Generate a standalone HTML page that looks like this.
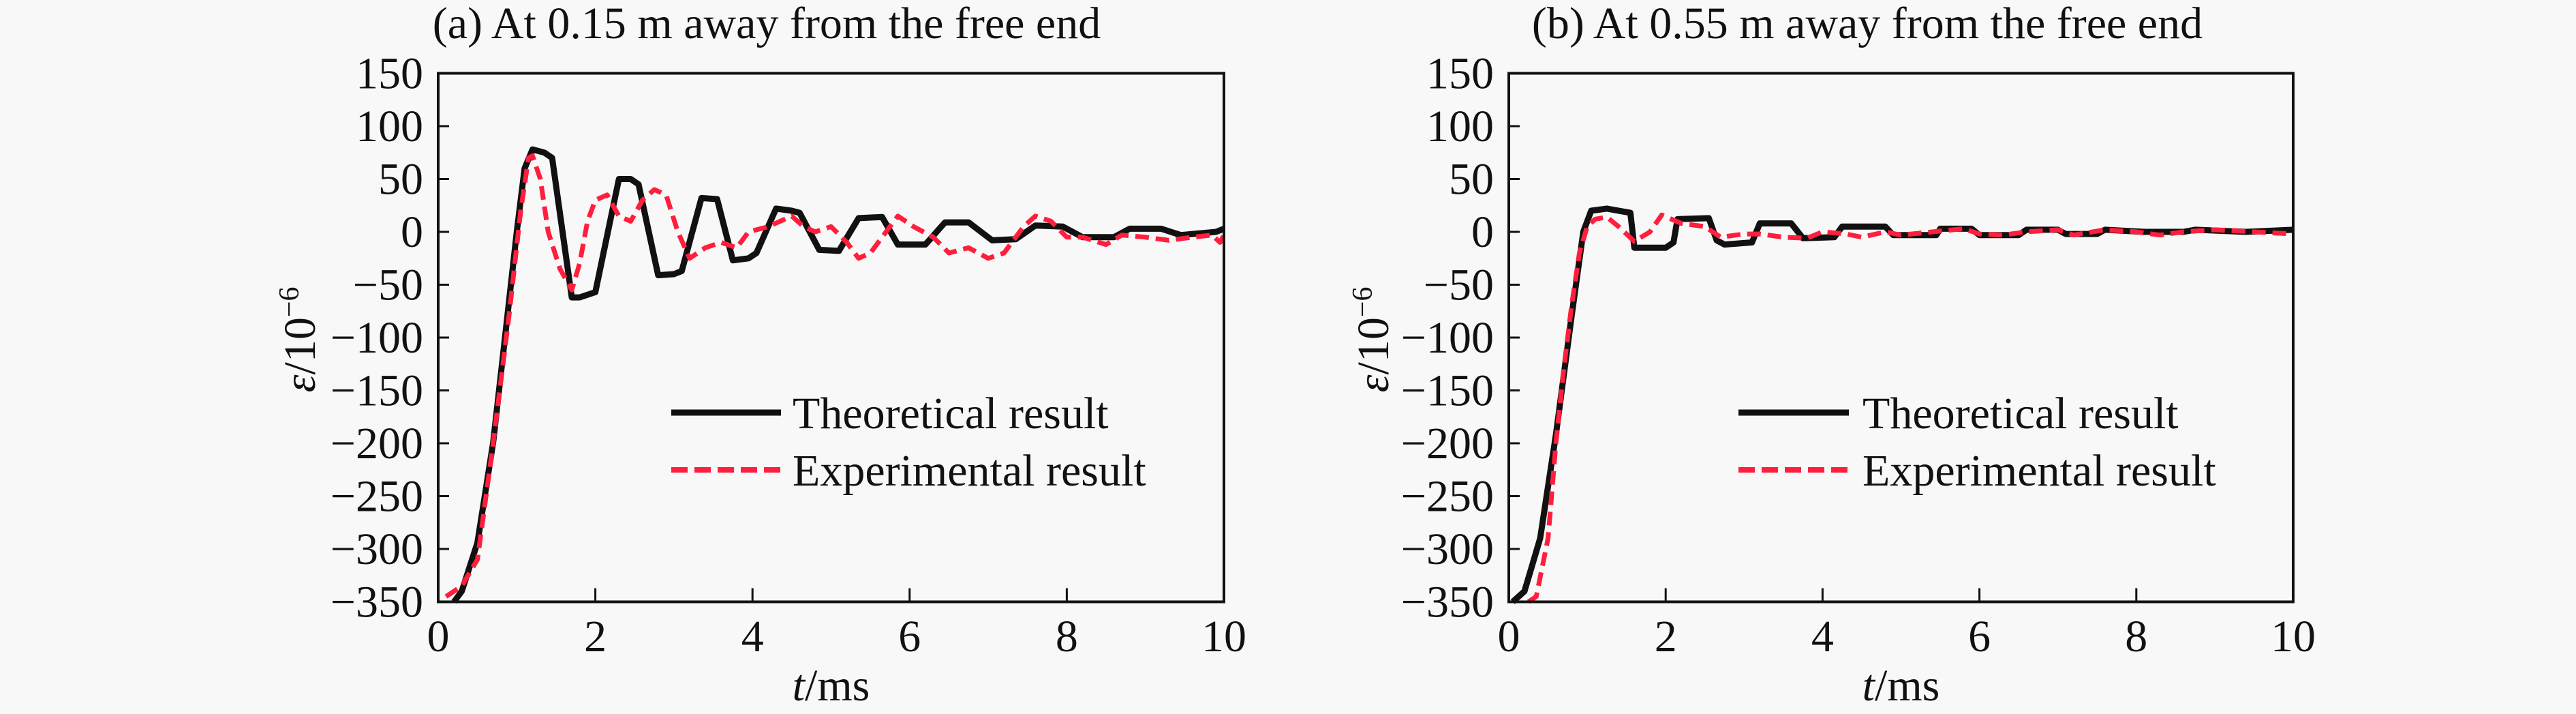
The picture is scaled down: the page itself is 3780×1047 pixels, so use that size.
<!DOCTYPE html>
<html><head><meta charset="utf-8"><style>
html,body{margin:0;padding:0;background:#f8f8f8;}
svg{display:block;font-family:"Liberation Serif",serif;}
</style></head><body>
<svg id="chart" width="3780" height="1047" viewBox="0 0 3780 1047" xmlns="http://www.w3.org/2000/svg">
<rect x="0" y="0" width="3780" height="1047" fill="#f8f8f8"/>
</svg>
<script>
const xTicks = [0, 2, 4, 6, 8, 10];
const yTicks = [150, 100, 50, 0, -50, -100, -150, -200, -250, -300, -350];
const titles = ["(a) At 0.15 m away from the free end", "(b) At 0.55 m away from the free end"];
const legendLabels = ["Theoretical result", "Experimental result"];

const theoATime = [0.2,0.3,0.5,0.7,0.85,1.0,1.1,1.2,1.35,1.45,1.7,1.8,2.0,2.3,2.45,2.55,2.8,3.0,3.1,3.35,3.55,3.75,3.95,4.05,4.3,4.5,4.6,4.85,5.1,5.35,5.65,5.85,6.2,6.45,6.75,7.05,7.35,7.6,7.95,8.2,8.6,8.8,9.2,9.45,9.9,10];
const theoAVal = [-350,-340,-294,-199,-100,0,60,78,75,70,-62,-62,-57,50,50,45,-41,-40,-37,32,31,-27,-25,-20,22,20,18,-17,-18,13,14,-12,-12,9,9,-8,-7,6,5,-5,-5,3,3,-3,0,3];
const expATime = [0.1,0.3,0.5,0.7,0.9,1.05,1.15,1.2,1.3,1.4,1.55,1.7,1.8,1.9,2.0,2.15,2.3,2.45,2.6,2.75,2.9,3.05,3.2,3.4,3.6,3.8,3.95,4.2,4.5,4.65,4.8,5.0,5.2,5.35,5.5,5.7,5.85,6.05,6.3,6.5,6.75,7.0,7.2,7.45,7.6,7.8,8.0,8.2,8.5,8.7,9.0,9.3,9.6,9.85,9.95,10];
const expAVal = [-345,-335,-310,-200,-80,20,70,72,50,0,-35,-55,-30,10,30,35,15,10,30,40,35,0,-25,-15,-10,-15,0,5,15,5,0,5,-10,-25,-20,0,15,5,-5,-20,-15,-25,-20,5,15,10,-5,-5,-12,-3,-5,-8,-5,-3,-10,-3];
const theoBTime = [0.05,0.2,0.4,0.6,0.8,0.95,1.05,1.25,1.55,1.6,2.0,2.1,2.15,2.55,2.65,2.75,3.1,3.2,3.6,3.75,4.15,4.25,4.8,4.9,5.45,5.5,5.9,6.0,6.5,6.6,7.0,7.1,7.5,7.6,8.1,8.6,8.75,9.4,10];
const theoBVal = [-350,-340,-290,-192,-80,0,20,22,18,-15,-15,-10,12,13,-8,-12,-10,8,8,-6,-5,5,5,-3,-3,3,3,-3,-3,2,2,-2,-2,2,0,0,2,0,2];
const expBTime = [0.25,0.35,0.5,0.6,0.7,0.8,0.9,1.0,1.1,1.25,1.4,1.6,1.8,1.95,2.2,2.5,2.7,3.0,3.2,3.5,3.8,4.0,4.3,4.5,4.8,5.0,5.4,5.8,6.0,6.3,6.6,7.0,7.2,7.6,8.0,8.3,8.6,9.0,9.5,10];
const expBVal = [-350,-345,-290,-200,-130,-70,-20,5,12,14,5,-9,0,16,8,5,-5,-2,-2,-5,-6,0,-2,-5,0,-3,0,3,-2,-3,0,2,-3,2,0,-3,0,2,0,-2];

const NS = "http://www.w3.org/2000/svg";
const svg = document.getElementById("chart");
function mk(tag, attrs, parent){ const e=document.createElementNS(NS,tag); for(const k in attrs) e.setAttribute(k,attrs[k]); (parent||svg).appendChild(e); return e; }

const panels = [
  {x0:643, x1:1796, title:titles[0], tx:1125, lx0:985, lx1:1146, ltx:1163, series:[[theoATime,theoAVal],[expATime,expAVal]], yl:440, key:"a"},
  {x0:2214, x1:3365, title:titles[1], tx:2740, lx0:2551, lx1:2713, ltx:2733, series:[[theoBTime,theoBVal],[expBTime,expBVal]], yl:2015, key:"b"}
];
const yTop=107.5, yBot=882.5;
panels.forEach(p=>{
  const g = mk("g",{});
  
  
  const sx = t => p.x0 + (t-0)/(10-0)*(p.x1-p.x0);
  const sy = v => yBot - (v+350)/500*(yBot-yTop);
  const t = mk("text",{x:p.tx,y:56,"font-size":66,"text-anchor":"middle",fill:"#111"},g);
  t.textContent=p.title;
  
  
  p.series.forEach((s,i)=>{
    const d = s[0].map((tt,j)=>(j?"L":"M")+sx(tt).toFixed(1)+","+sy(s[1][j]).toFixed(1)).join(" ");
    const path = mk("path",{d:d,fill:"none",stroke:i?"#ff1f3d":"#111","stroke-width":i?7:9,"stroke-linejoin":"round","stroke-dasharray":i?"20 10":"none"},g);
    
    
  });
  const fr = mk("rect",{x:p.x0,y:yTop,width:p.x1-p.x0,height:yBot-yTop,fill:"none",stroke:"#111","stroke-width":4},g);
  
  
  yTicks.forEach(v=>{
    const y=sy(v);
    const tk=mk("line",{x1:p.x0,x2:p.x0+16,y1:y,y2:y,stroke:"#111","stroke-width":3},g);
    
    
    const tl=mk("text",{x:p.x0-22,y:y+22,"font-size":66,"text-anchor":"end",fill:"#111"},g);
    tl.textContent=(v<0?"\u2212"+(-v):String(v));
    
    
  });
  xTicks.forEach(v=>{
    const x=sx(v);
    const tk=mk("line",{x1:x,x2:x,y1:yBot,y2:yBot-20,stroke:"#111","stroke-width":3},g);
    
    
    const tl=mk("text",{x:x,y:955,"font-size":66,"text-anchor":"middle",fill:"#111"},g);
    tl.textContent=String(v);
    
    
  });
  const xt=mk("text",{x:(p.x0+p.x1)/2,y:1027,"font-size":66,"text-anchor":"middle",fill:"#111"},g);
  xt.innerHTML='<tspan font-style="italic">t</tspan>/ms';
  
  
  const yt=mk("text",{x:0,y:0,"font-size":66,"text-anchor":"middle",fill:"#111",transform:"translate("+(p.yl+22)+",498) rotate(-90)"},g);
  yt.innerHTML='<tspan font-style="italic">\u03b5</tspan>/10<tspan dy="-24" font-size="42">\u22126</tspan>';
  
  
  [0,1].forEach(i=>{
    const y = i?689:605;
    const ll=mk("line",{x1:p.lx0,x2:p.lx1,y1:y,y2:y,stroke:i?"#ff1f3d":"#111","stroke-width":i?8:9,"stroke-dasharray":i?"24 10":"none"},g);
    
    
    const lt=mk("text",{x:p.ltx,y:y+23,"font-size":66,fill:"#111"},g);
    lt.textContent=legendLabels[i];
    
    
  });
});
</script>
</body></html>
